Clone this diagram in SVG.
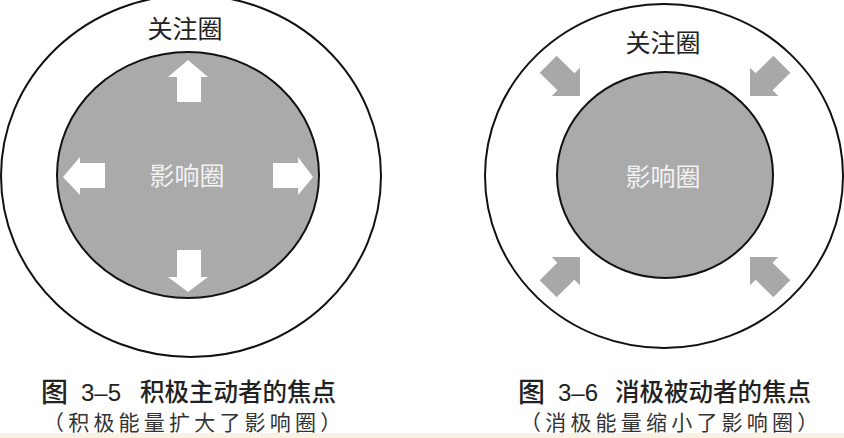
<svg xmlns="http://www.w3.org/2000/svg" width="844" height="438" viewBox="0 0 844 438">
<style>
.ring{fill:none;stroke:#111;stroke-width:2}
.inner{fill:#aaaaaa;stroke:#111;stroke-width:2}
.lbl{font-family:"Noto Sans CJK SC","Noto Sans",sans-serif;font-size:25px;fill:#222;text-anchor:middle}
.lblw{font-family:"Noto Sans CJK SC","Noto Sans",sans-serif;font-size:25px;fill:#f2f2f2;text-anchor:middle}
.cap{font-family:"Noto Sans CJK SC",sans-serif;font-size:24.5px;font-weight:500;fill:#222}
.fig{font-family:"Noto Sans CJK SC",sans-serif;font-size:27px;font-weight:500;fill:#222}
.num{font-family:"Liberation Sans",Arial,sans-serif;font-size:24px;fill:#222}
.sub{font-family:"Noto Sans CJK SC",sans-serif;font-size:21px;fill:#333;letter-spacing:4.2px}
.wa{fill:#fff}
.ga{fill:#a8a8a8}
</style>
<defs>
<polygon id="garrow" points="0,0 -20,-20 -20,-12 -45,-12 -45,12 -20,12 -20,20"/>
</defs>
<rect x="0" y="0" width="844" height="438" fill="#fff"/>
<rect x="0" y="433" width="844" height="5" fill="#fbf1de"/>

<g id="fig35">
  <g id="circle-of-concern-left">
    <ellipse class="ring" cx="191" cy="176" rx="190" ry="181"/>
    <text class="lbl" x="185" y="38">关注圈</text>
  </g>
  <g id="circle-of-influence-left">
    <ellipse class="inner" cx="188" cy="175" rx="131" ry="123"/>
    <text class="lblw" x="187" y="185">影响圈</text>
  </g>
  <g id="arrows-out">
    <polygon class="wa" points="188,60 208,77 201,77 201,102 177,102 177,77 168,77"/>
    <polygon class="wa" points="177,250 201,250 201,277 208,277 188,292 168,277 177,277"/>
    <polygon class="wa" points="63,177 80,157 80,163 105,163 105,188 80,188 80,195"/>
    <polygon class="wa" points="273,163 298,163 298,157 313,177 298,195 298,188 273,188"/>
  </g>
</g>

<g id="fig36">
  <g id="circle-of-concern-right">
    <ellipse class="ring" cx="664" cy="176" rx="179" ry="172"/>
    <text class="lbl" x="663" y="52">关注圈</text>
  </g>
  <g id="circle-of-influence-right">
    <ellipse class="inner" cx="665" cy="175" rx="108" ry="103"/>
    <text class="lblw" x="663" y="186">影响圈</text>
  </g>
  <g id="arrows-in">
    <use href="#garrow" class="ga" transform="translate(580,96) rotate(45)"/>
    <use href="#garrow" class="ga" transform="translate(750,96) rotate(135)"/>
    <use href="#garrow" class="ga" transform="translate(580,257) rotate(-45)"/>
    <use href="#garrow" class="ga" transform="translate(750,257) rotate(-135)"/>
  </g>
</g>

<g id="captions">
  <text class="fig" x="41" y="402">图</text>
  <text class="num" x="81" y="401">3–5</text>
  <text class="cap" x="140" y="401">积极主动者的焦点</text>
  <text class="sub" x="43" y="430">（积极能量扩大了影响圈）</text>

  <text class="fig" x="518" y="402">图</text>
  <text class="num" x="558" y="401">3–6</text>
  <text class="cap" x="615" y="401">消极被动者的焦点</text>
  <text class="sub" x="520" y="430">（消极能量缩小了影响圈）</text>
</g>
</svg>
